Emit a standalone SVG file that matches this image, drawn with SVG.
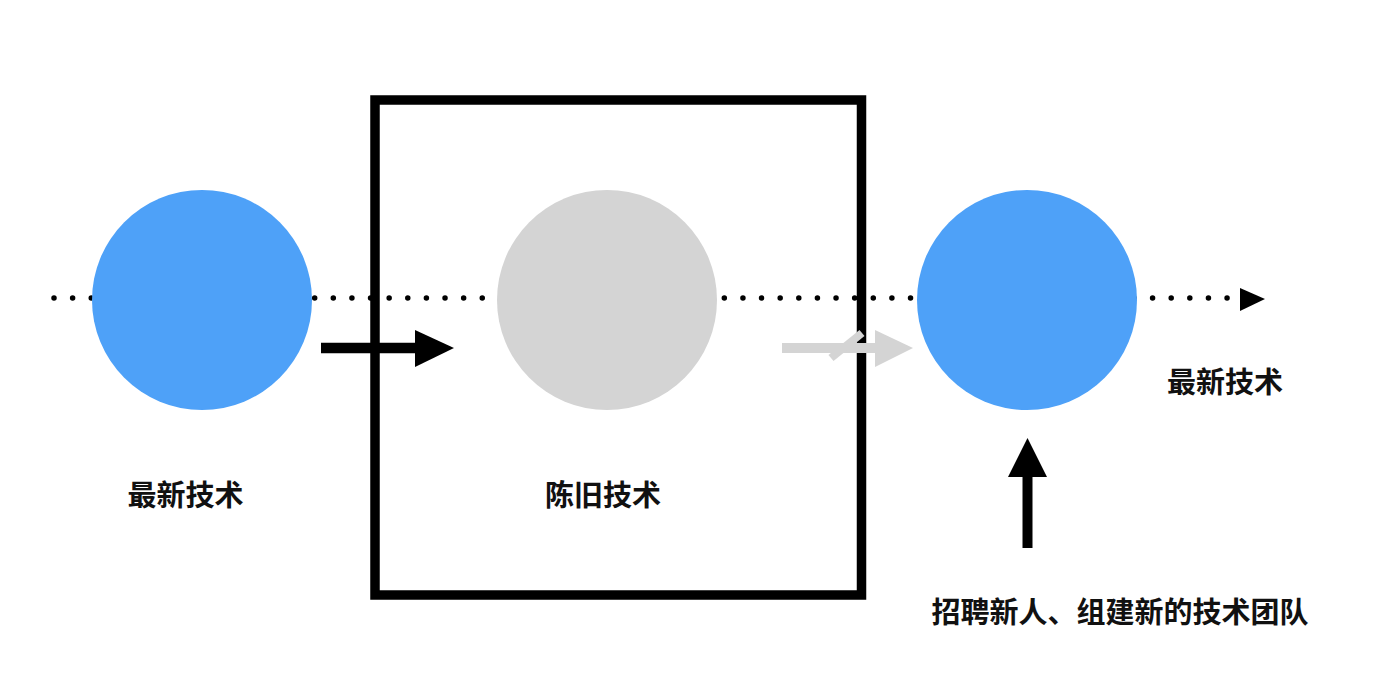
<svg xmlns="http://www.w3.org/2000/svg" width="1384" height="700" viewBox="0 0 1384 700">
<style>
.lbl{font-family:"Noto Sans CJK SC","Noto Sans",sans-serif;font-size:29px;font-weight:bold;fill:#111;text-anchor:middle}
.blue{fill:#4ea1f8}
.gray{fill:#d4d4d4}
</style>
<rect width="1384" height="700" fill="#fff"/>
<g id="connectors">
<line x1="54" y1="298" x2="1230" y2="298" stroke="#000" stroke-width="5.5" stroke-linecap="round" stroke-dasharray="0 18.62"/>
<polygon points="1240,288 1265,299 1240,311" fill="#000"/>
</g>
<g id="node-left"><circle class="blue" cx="202" cy="300" r="110"/></g>
<g id="node-old"><circle class="gray" cx="607" cy="300" r="110"/></g>
<g id="node-right"><circle class="blue" cx="1027" cy="300" r="110"/></g>
<g id="box"><rect x="375" y="100" width="486.5" height="495" fill="none" stroke="#000" stroke-width="9.5"/></g>
<g id="arrows">
<line x1="321" y1="348" x2="420" y2="348" stroke="#000" stroke-width="10.5"/>
<polygon points="415,330 454,348 415,367" fill="#000"/>
<line x1="782" y1="348" x2="880" y2="348" stroke="#d4d4d4" stroke-width="10"/>
<line x1="831" y1="358" x2="862" y2="333" stroke="#d4d4d4" stroke-width="8"/>
<polygon points="875,330 913,348 875,367" fill="#d4d4d4"/>
<line x1="1027.5" y1="548" x2="1027.5" y2="470" stroke="#000" stroke-width="10"/>
<polygon points="1027.5,438 1047,477 1008,477" fill="#000"/>
</g>
<g id="labels">
<text class="lbl" x="185.5" y="506">最新技术</text>
<text class="lbl" x="603" y="506">陈旧技术</text>
<text class="lbl" x="1225" y="393">最新技术</text>
<text class="lbl" x="1120" y="623">招聘新人、组建新的技术团队</text>
</g>
</svg>
